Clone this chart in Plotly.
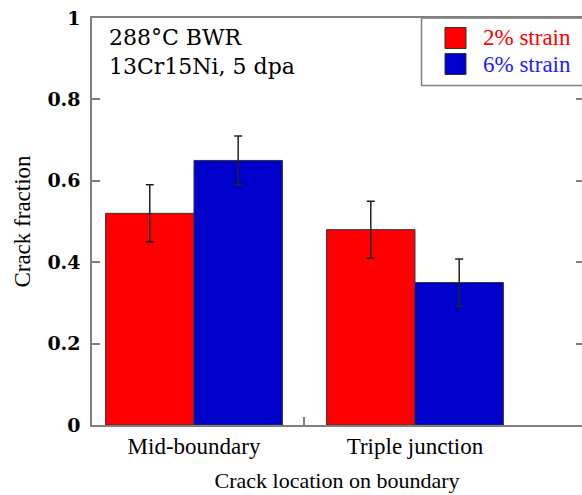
import plotly.graph_objects as go

categories = ["Mid-boundary", "Triple junction"]
series_names = ["2% strain", "6% strain"]
strain2_values = [0.52, 0.48]
strain2_errors = [0.07, 0.07]
strain6_values = [0.65, 0.35]
strain6_errors = [0.06, 0.058]
y_tick_values = [0, 0.2, 0.4, 0.6, 0.8, 1]
y_tick_labels = ["0", "0.2", "0.4", "0.6", "0.8", "1"]

RED = "#ff0000"
BLUE = "#0000cc"
SERIF = "Liberation Serif"
WIDE = "DejaVu Serif"
AX = "#7f7f7f"

W, H = 582, 495
L, R, T, B = 92, 0, 18, 70
pw = W - L - R
ph = H - T - B

xpos = list(range(len(categories)))
xrange_ = [-0.4615, 1.7557]

fig = go.Figure()
for name, vals, errs, col in [
    (series_names[0], strain2_values, strain2_errors, RED),
    (series_names[1], strain6_values, strain6_errors, BLUE),
]:
    fig.add_trace(go.Bar(
        x=xpos, y=vals, name=name,
        marker=dict(color=col, line=dict(color="#333333", width=1)),
        error_y=dict(type="data", array=errs, visible=True,
                     color="#222222", thickness=1.5, width=4),
        showlegend=False,
    ))
# empty trace so that the overlay axes (extra tick marks) are drawn
fig.add_trace(go.Scatter(x=[], y=[], xaxis="x2", yaxis="y2",
                         showlegend=False, hoverinfo="skip"))

fig.update_layout(
    width=W, height=H,
    margin=dict(l=L, r=R, t=T, b=B, pad=0),
    paper_bgcolor="white", plot_bgcolor="white",
    barmode="group", bargap=0.2, bargroupgap=0,
    showlegend=False,
    font=dict(family=SERIF, size=22, color="black"),
    xaxis=dict(
        range=xrange_, tickvals=xpos, ticktext=categories,
        ticks="", showgrid=False, zeroline=False,
        showline=True, linecolor=AX, linewidth=1.5, mirror=True,
        tickfont=dict(family=SERIF, size=23),
        title=dict(text="Crack location on boundary", standoff=14,
                   font=dict(family=SERIF, size=22)),
    ),
    xaxis2=dict(
        overlaying="x", anchor="y", side="bottom", range=xrange_,
        tickvals=[0.5], ticks="inside", ticklen=8, tickcolor=AX, tickwidth=1.5,
        showticklabels=False, showgrid=False, zeroline=False, showline=False,
    ),
    yaxis=dict(
        range=[0, 1], tickvals=y_tick_values, ticktext=y_tick_labels,
        ticks="inside", ticklen=8, tickcolor=AX, tickwidth=1.5,
        showgrid=False, zeroline=False,
        showline=True, linecolor=AX, linewidth=1.5,
        tickfont=dict(family=WIDE, size=19, weight="bold"),
        ticklabelstandoff=6,
        title=dict(text="Crack fraction", standoff=10,
                   font=dict(family=SERIF, size=23)),
    ),
    yaxis2=dict(
        overlaying="y", anchor="x", side="right", range=[0, 1],
        tickvals=y_tick_values, ticks="inside", ticklen=6, tickcolor=AX,
        tickwidth=1.5, showticklabels=False, showgrid=False, zeroline=False,
        showline=False,
    ),
)

def px_x(p):
    return (p - L) / pw

def px_y(p):
    return 1 - (p - T) / ph

# text box
fig.add_annotation(
    xref="paper", yref="paper", x=px_x(107), y=px_y(23),
    xanchor="left", yanchor="top", align="left", showarrow=False,
    text="288°C BWR<br>13Cr15Ni, 5 dpa",
    font=dict(family=WIDE, size=22, color="black"),
)

# legend box (right side runs off the chart)
fig.add_shape(type="rect", xref="paper", yref="paper",
              x0=px_x(421.5), x1=1.1, y0=px_y(85.5), y1=1,
              line=dict(color=AX, width=1.5), fillcolor="rgba(0,0,0,0)")
for i, (name, col, tcol) in enumerate([(series_names[0], RED, "#ff0000"),
                                        (series_names[1], BLUE, "#2020ff")]):
    top = 27.5 + i * 26
    fig.add_shape(type="rect", xref="paper", yref="paper",
                  x0=px_x(445), x1=px_x(466), y0=px_y(top + 21), y1=px_y(top),
                  line=dict(color="#333333", width=1), fillcolor=col)
    fig.add_annotation(xref="paper", yref="paper", x=px_x(481), y=px_y(top + 10.5),
                       xanchor="left", yanchor="middle", showarrow=False,
                       text=name, font=dict(family=SERIF, size=23, color=tcol))

fig.write_html("out.html")
